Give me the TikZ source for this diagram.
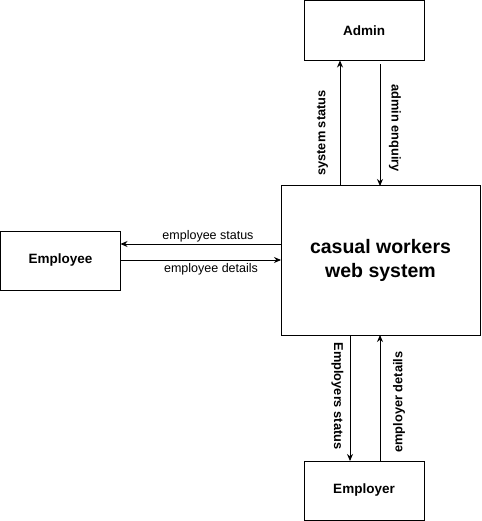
\documentclass[tikz,border=0pt]{standalone}
\usepackage{fontspec}
\setmainfont{Liberation Sans}
\usetikzlibrary{arrows.meta}

\begin{document}
\begin{tikzpicture}[x=1pt, y=-1pt,
		box/.style={draw, line width=1pt, inner sep=0pt, outer sep=0pt, align=center, font=\bfseries\fontsize{13.5}{16}\selectfont},
		flow/.style={-{Stealth[length=7pt,width=6pt]}, line width=0.9pt},
		lbl/.style={font=\fontsize{12.5}{14}\selectfont},
		vlbl/.style={font=\bfseries\fontsize{12.8}{14}\selectfont}]
		\useasboundingbox (0,0) rectangle (481,521);
		
		% Boxes
		\node[box, minimum width=120pt, minimum height=60pt] (admin) at (364,30.5) {Admin};
		\node[box, minimum width=120pt, minimum height=59pt] (employee) at (60.5,260.5) {Employee};
		\node[box, minimum width=199pt, minimum height=149pt, font=\bfseries\fontsize{19.5}{24}\selectfont] (system) at (380.5,260.5) {casual workers\\web system};
		\node[box, minimum width=120pt, minimum height=59pt] (employer) at (364,490.5) {Employer};
		
		% Coordinates for the flows
		\coordinate (x_1) at (340,0);
		\coordinate (x_2) at (380,0);
		\coordinate (x_3) at (350,0);
		\coordinate (y_1) at (0,244);
		\coordinate (y_2) at (0,260);
		
		% Admin flows
		\draw[flow] (system.north -| x_1) -- (admin.south -| x_1);
		\draw[flow, shorten <=4pt] (admin.south -| x_2) -- (system.north -| x_2);
		\node[vlbl, rotate=90] (sysstatus) at (322.5,133) {system status};
		\node[vlbl, rotate=-90] (enquiry) at (395,128) {admin enquiry};
		
		% Employee flows
		\draw[flow] (system.west |- y_1) -- (employee.east |- y_1);
		\draw[flow] (employee.east |- y_2) -- (system.west |- y_2);
		\node[lbl] (empstatus) at (208,236) {employee status};
		\node[lbl] (empdetails) at (211,269) {employee details};
		
		% Employer flows
		\draw[flow] (system.south -| x_3) -- (employer.north -| x_3);
		\draw[flow] (employer.north -| x_2) -- (system.south -| x_2);
		\node[vlbl, rotate=-90] (emplrstatus) at (337.5,396) {Employers status};
		\node[vlbl, rotate=90] (emplrdetails) at (399,402) {employer details};
	\end{tikzpicture}
\end{document}
